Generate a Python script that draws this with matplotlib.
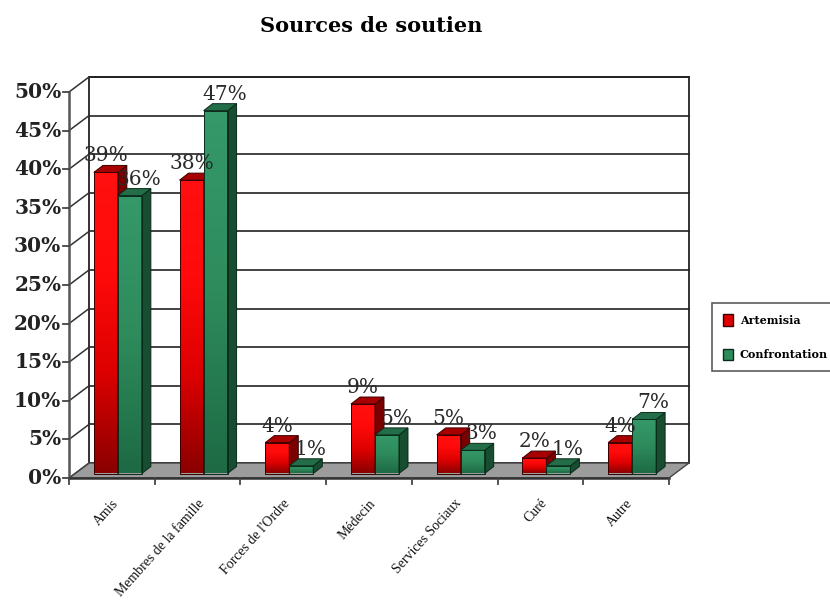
import numpy as np
import matplotlib.pyplot as plt
from matplotlib.patches import Polygon, Rectangle, Patch
from matplotlib.colors import LinearSegmentedColormap

categories = ["Amis", "Membres de la famille", "Forces de l'Ordre", "Médecin",
              "Services Sociaux", "Curé", "Autre"]
artemisia = [39, 38, 4, 9, 5, 2, 4]
confrontation = [36, 47, 1, 5, 3, 1, 7]
yticks = [0, 5, 10, 15, 20, 25, 30, 35, 40, 45, 50]

plt.rcParams['font.family'] = ['DejaVu Serif']
LABEL_FONT = ['Liberation Serif', 'DejaVu Serif']

fig = plt.figure(figsize=(8.3, 6.06), dpi=100)
ax = fig.add_axes([0, 0, 1, 1])
ax.set_axis_off()

# pixel scale of the plot: 85.71 px per category, 7.72 px per percent
PX = 85.71
PY = 7.72
DX, DY = 20 / PX, 15 / PY          # depth of the box
FX, FY = 6 / PX, 4.5 / PY          # bars set back from front plane
BX, BY = 9 / PX, 7 / PY            # depth of each bar
W = 24 / PX                        # bar width
n = len(categories)

# floor
ax.add_patch(Polygon([(0, 0), (n, 0), (n + DX, DY), (DX, DY)], closed=True,
                     facecolor='#9c9c9c', edgecolor='#444444', lw=1, zorder=1))
# back wall
ax.add_patch(Rectangle((DX, DY), n, 50, facecolor='white', edgecolor='#222222',
                       lw=1.3, zorder=0.5))
for v in yticks[1:]:
    ax.plot([DX, n + DX], [v + DY, v + DY], color='#222222', lw=1.2, zorder=0.6)
    ax.plot([0, DX], [v, v + DY], color='#333333', lw=1.1, zorder=0.6)
ax.plot([0, DX], [0, DY], color='#444444', lw=1.0, zorder=1.1)

# front axes
ax.plot([0, 0], [0, 50], color='#555555', lw=1.8, zorder=2)
ax.plot([0, n], [0, 0], color='#333333', lw=1.8, zorder=2)
for v in yticks:
    ax.plot([-0.07, 0], [v, v], color='#444444', lw=1.3, zorder=2)
    ax.text(-0.09, v, f"{v}%", ha='right', va='center', fontsize=14.5,
            fontweight='bold', color='#222222')
for i in range(n + 1):
    ax.plot([i, i], [0, -0.8], color='#444444', lw=1.3, zorder=2)

red_cm = LinearSegmentedColormap.from_list('r', ['#8a0000', '#dd0000', '#ff0a0a', '#ff1010'])
green_cm = LinearSegmentedColormap.from_list('g', ['#1d6a44', '#2e8b5c', '#35996a'])
grad = np.linspace(0, 1, 256).reshape(-1, 1)


def bar3d(x0, v, cmap, side, top, edge, z):
    y0 = FY
    y1 = v + FY
    x0 = x0 + FX
    x1 = x0 + W
    ax.imshow(grad, extent=(x0, x1, y0, y1), origin='lower', cmap=cmap,
              aspect='auto', zorder=z, interpolation='bilinear')
    ax.add_patch(Rectangle((x0, y0), W, v, fill=False, edgecolor=edge,
                           lw=0.7, zorder=z + 0.01))
    ax.add_patch(Polygon([(x1, y0), (x1 + BX, y0 + BY), (x1 + BX, y1 + BY), (x1, y1)],
                         closed=True, facecolor=side, edgecolor=edge, lw=0.7, zorder=z))
    ax.add_patch(Polygon([(x0, y1), (x1, y1), (x1 + BX, y1 + BY), (x0 + BX, y1 + BY)],
                         closed=True, facecolor=top, edgecolor=edge, lw=0.7, zorder=z))


z = 3
for i in range(n):
    left = i + (1 - 2 * W) / 2
    bar3d(left, artemisia[i], red_cm, '#7a0000', '#a80000', '#3a0000', z)
    z += 0.1
    bar3d(left + W, confrontation[i], green_cm, '#174d31', '#236e49', '#0c2a1a', z)
    z += 0.1

for i in range(n):
    left = i + (1 - 2 * W) / 2
    ax.text(left + W / 2 + FX, artemisia[i] + FY + BY, f"{artemisia[i]}%",
            ha='center', va='bottom', fontsize=14.5, color='#2a2a2a', zorder=10)
    ax.text(left + W * 1.5 + FX + BX, confrontation[i] + FY + BY, f"{confrontation[i]}%",
            ha='center', va='bottom', fontsize=14.5, color='#2a2a2a', zorder=10)

for i, c in enumerate(categories):
    ax.text(i + 0.55, -3.0, c, rotation=48, rotation_mode='anchor', ha='right',
            va='center', fontsize=10, color='#111111', family=LABEL_FONT)

ax.set_xlim(-69 / PX, (830 - 69) / PX)
ax.set_ylim(-(606 - 478) / PY, 478 / PY)

fig.text(371 / 830, 1 - 26 / 606, "Sources de soutien", ha='center', va='center',
         fontsize=15, fontweight='bold')

handles = [Patch(facecolor='#e00000', edgecolor='#3a0000', label='Artemisia'),
           Patch(facecolor='#2e8b5c', edgecolor='#0c2a1a', label='Confrontation')]
leg = fig.legend(handles=handles, loc='upper left',
                 bbox_to_anchor=(712 / 830, 1 - 303 / 606), borderaxespad=0,
                 prop={'family': 'DejaVu Serif', 'weight': 'bold', 'size': 8},
                 frameon=True, fancybox=False, edgecolor='#333333',
                 labelspacing=2.1, borderpad=1.0, handlelength=0.9,
                 handleheight=1.2, handletextpad=0.6)
leg.get_frame().set_linewidth(1.2)

fig.savefig('out.png', dpi=100)
